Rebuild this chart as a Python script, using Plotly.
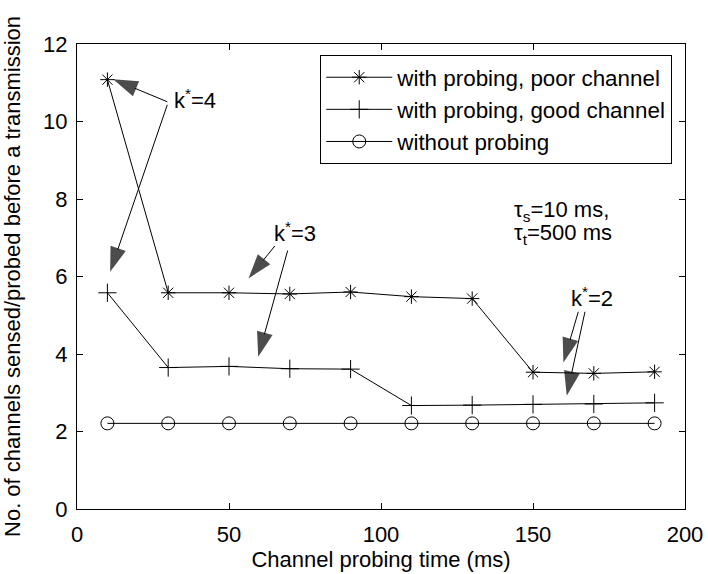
import plotly.graph_objects as go

# ---- data ----
probing_time = [10, 30, 50, 70, 90, 110, 130, 150, 170, 190]
poor_channel = [11.08, 5.58, 5.58, 5.55, 5.60, 5.48, 5.43, 3.53, 3.50, 3.54]
good_channel = [5.58, 3.65, 3.68, 3.62, 3.61, 2.67, 2.68, 2.70, 2.71, 2.74]
without_probing = [2.21, 2.21, 2.21, 2.21, 2.21, 2.21, 2.21, 2.21, 2.21, 2.21]

x_ticks = [0, 50, 100, 150, 200]
y_ticks = [0, 2, 4, 6, 8, 10, 12]

# annotation arrows: (tail_x, tail_y, tip_x, tip_y) in data units
arrows = [
    (29.7, 10.51, 11.9, 11.09),
    (29.7, 10.43, 10.9, 6.12),
    (65.1, 6.79, 56.4, 5.95),
    (69.3, 6.67, 59.6, 3.93),
    (164.9, 5.09, 160.0, 3.78),
    (167.1, 5.09, 161.1, 2.92),
]
# annotation labels: (x, y, text), left-anchored
labels = [
    (31.1, 10.59, "k<sup>*</sup>=4"),
    (64.05, 7.14, "k<sup>*</sup>=3"),
    (161.9, 5.46, "k<sup>*</sup>=2"),
    (143.2, 7.70, "τ<sub>s</sub>=10 ms,"),
    (143.2, 7.10, "τ<sub>t</sub>=500 ms"),
]

FONT = "Liberation Sans, Arial, Helvetica, sans-serif"
FS = 22

fig = go.Figure()

fig.add_trace(go.Scatter(
    x=probing_time, y=poor_channel, mode="lines+markers",
    name="with probing, poor channel",
    line=dict(color="black", width=1),
    marker=dict(symbol="asterisk-open", size=12, color="black",
                line=dict(color="black", width=1)),
))
fig.add_trace(go.Scatter(
    x=probing_time, y=good_channel, mode="lines+markers",
    name="with probing, good channel",
    line=dict(color="black", width=1),
    marker=dict(symbol="cross-thin-open", size=13, color="black",
                line=dict(color="black", width=1)),
))
fig.add_trace(go.Scatter(
    x=probing_time, y=without_probing, mode="lines+markers",
    name="without probing",
    line=dict(color="black", width=1),
    marker=dict(symbol="circle-open", size=13, color="black",
                line=dict(color="black", width=1)),
))

for (tx, ty, hx, hy) in arrows:
    fig.add_trace(go.Scatter(
        x=[tx, hx], y=[ty, hy], mode="lines+markers",
        showlegend=False, hoverinfo="skip",
        line=dict(color="black", width=1),
        marker=dict(symbol="arrow", size=[0, 26], color="black",
                    angleref="previous", line=dict(width=0)),
    ))

for (lx, ly, txt) in labels:
    fig.add_annotation(x=lx, y=ly, text=txt, showarrow=False,
                       xanchor="left", yanchor="middle",
                       font=dict(family=FONT, size=FS, color="black"))

axis_common = dict(
    showline=True, linecolor="black", linewidth=1, mirror="ticks",
    ticks="inside", ticklen=6, tickcolor="black", tickwidth=1,
    showgrid=False, zeroline=False, automargin=False,
    tickfont=dict(family=FONT, size=FS, color="black"),
)

fig.update_layout(
    width=708, height=574,
    margin=dict(l=77, r=23, t=44, b=65, autoexpand=False),
    paper_bgcolor="white", plot_bgcolor="white",
    font=dict(family=FONT, size=FS, color="black"),
    xaxis=dict(range=[0, 200], tickvals=x_ticks, ticklabelstandoff=6,
               title=dict(text="Channel probing time (ms)", standoff=3,
                          font=dict(family=FONT, size=FS)),
               **axis_common),
    yaxis=dict(range=[0, 12], tickvals=y_ticks, ticklabelstandoff=4,
               title=dict(text="No. of channels sensed/probed before a transmission",
                          standoff=26, font=dict(family=FONT, size=FS)),
               **axis_common),
    legend=dict(x=0.979, xanchor="right", y=0.976, yanchor="top",
                bordercolor="black", borderwidth=1, bgcolor="white",
                font=dict(family=FONT, size=22.4, color="black"),
                itemwidth=66, tracegroupgap=0),
    showlegend=True,
)

fig.write_html("out.html")
